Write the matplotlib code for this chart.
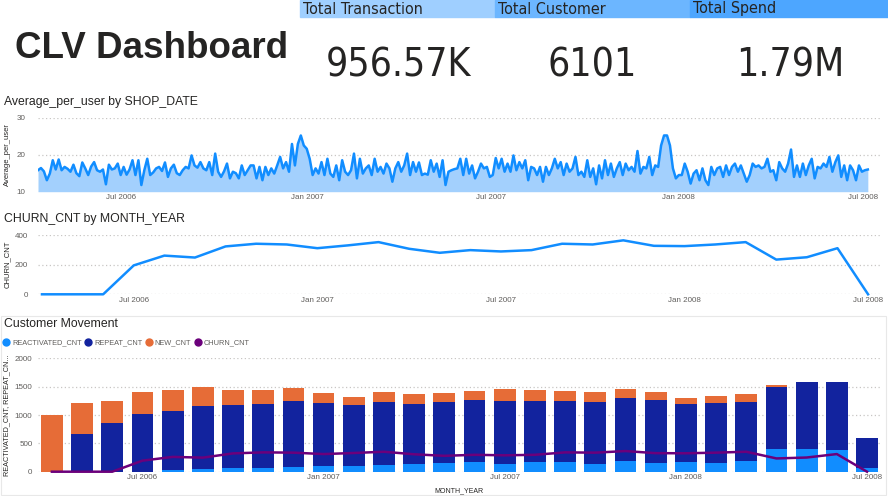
import matplotlib
matplotlib.use("Agg")
import matplotlib.pyplot as plt
import numpy as np
import pandas as pd
from matplotlib import font_manager
from matplotlib.lines import Line2D
from matplotlib.patches import Rectangle

W, H = 888, 496

# ---- data -------------------------------------------------------------
card_titles = ["Total Transaction", "Total Customer", "Total Spend"]
card_values = ["956.57K", "6101", "1.79M"]

# daily Average_per_user at ~3 day steps (10 Apr 2006 - 6 Jul 2008)
avg_per_user = [
    15.8, 16.4, 15.5, 13.1, 14.9, 18.5, 16.0, 18.7, 15.8, 16.7, 16.2, 15.4, 17.3, 15.0, 14.2,
    17.9, 16.3, 14.5, 16.8, 18.0, 15.8, 15.4, 16.0, 12.0, 17.3, 16.0, 16.3, 17.6, 14.5, 16.7,
    14.6, 16.0, 18.5, 14.5, 18.5, 11.8, 15.8, 18.9, 14.5, 15.2, 16.3, 16.7, 15.6, 17.9, 14.0,
    16.3, 17.3, 15.0, 14.5, 15.8, 16.7, 16.3, 19.8, 17.1, 16.5, 18.0, 16.3, 15.8, 18.0, 14.5,
    20.3, 15.4, 14.0, 15.5, 17.6, 13.6, 15.4, 15.0, 13.6, 17.1, 14.5, 15.8, 17.1,
    17.1, 13.6, 16.7, 13.1, 16.7, 14.5, 16.3, 14.9, 17.1, 19.4, 16.3, 18.0, 15.4, 22.9, 17.1,
    22.9, 25.2, 22.5, 21.6, 18.9, 14.5, 16.3, 14.9, 18.0, 14.5, 18.9, 14.9, 14.0, 17.1, 13.1,
    18.5, 15.4, 14.5, 15.8, 20.3, 13.6, 18.9, 14.9, 16.3, 17.1, 14.5, 18.9, 15.4, 16.7, 14.9,
    17.6, 16.3, 12.7, 16.3, 18.0, 15.4, 17.1, 20.3, 14.5, 18.0, 15.4, 17.9, 14.5, 14.9, 14.6,
    18.5, 15.4, 17.6, 14.0, 18.5, 11.8, 15.4, 15.8, 16.1,
    16.3, 18.9, 14.5, 18.9, 14.9, 17.1, 13.6, 15.4, 17.6, 16.3, 16.7, 14.0, 14.5, 19.1, 16.3,
    18.9, 15.4, 17.6, 15.4, 19.8, 15.8, 18.0, 16.3, 18.5, 13.1, 16.7, 16.3, 14.5, 16.7, 12.7,
    16.7, 14.5, 16.3, 18.9, 16.3, 18.0, 14.5, 17.6, 15.4, 16.3, 19.4, 14.5, 15.4, 14.0, 18.5,
    14.0, 16.3, 12.0, 17.1, 13.6, 18.5, 14.5, 17.6, 14.0, 16.3, 18.0, 14.5, 17.6, 15.8, 16.7,
    15.4, 21.0, 14.9, 16.7, 16.3, 19.4, 14.5, 17.1, 16.7, 22.5, 25.2,
    25.2, 22.5, 16.3, 13.6, 14.5, 14.5, 17.6, 15.4, 12.2, 14.9, 15.8, 13.1, 16.3, 13.1, 11.8,
    16.7, 14.5, 16.3, 16.7, 14.0, 17.1, 14.5, 16.7, 17.6, 15.4, 17.1, 14.9, 12.7, 14.5, 17.6,
    16.7, 17.1, 16.3, 16.7, 18.9, 15.4, 15.8, 13.1, 18.0, 16.3, 15.4, 17.6, 21.4, 14.0, 17.1,
    14.0, 17.6, 14.5, 17.1, 18.9, 13.6, 16.7, 16.3, 17.6, 16.7, 19.4, 15.4, 18.0, 19.8, 14.0,
    17.1, 13.1, 17.1, 15.8, 13.1, 17.1, 15.4, 15.8, 16.0,
]
shop_start, shop_end = "2006-04-10", "2008-07-06"

months = pd.date_range("2006-04-01", "2008-07-01", freq="MS")
churn_cnt = [0, 0, 0, 195, 261, 248, 323, 341, 336, 311, 330, 352, 307, 280,
             298, 289, 298, 341, 336, 364, 327, 325, 336, 352, 234, 250, 311, 0]
reactivated_cnt = [0, 0, 0, 0, 29, 47, 65, 65, 88, 106, 100, 118, 135, 159,
                   165, 141, 176, 170, 135, 182, 153, 165, 159, 194, 400, 400, 382, 65]
repeat_cnt = [0, 670, 864, 1017, 1047, 1117, 1117, 1135, 1164, 1111, 1070, 1117, 1053, 1076,
              1099, 1111, 1071, 1077, 1094, 1118, 1111, 1029, 1046, 1035, 1100, 1182, 1206, 523]
new_cnt = [1000, 541, 383, 388, 364, 330, 258, 235, 224, 177, 153, 176, 176, 153,
           165, 200, 193, 182, 176, 152, 136, 111, 130, 135, 23, 0, 0, 0]

# ---- style ------------------------------------------------------------
condensed = [f for f in font_manager.fontManager.ttflist
             if f.name == "DejaVu Sans" and f.stretch not in ("normal", 500)]
if condensed:
    card_font = dict(family=["DejaVu Sans"], fontstretch="condensed")
    title_size, value_size = 11.5, 28
else:
    card_font = dict(family=["Liberation Sans", "DejaVu Sans"])
    title_size, value_size = 11.3, 25.5
plt.rcParams["font.family"] = ["Liberation Sans", "DejaVu Sans"]

DARK = "#252423"
GREY = "#605E5C"
GRID = "#C8C6C4"
BLUE = "#118DFF"
FILL = "#A3D0FD"
NAVY = "#12239E"
ORANGE = "#E66C37"
PURPLE = "#6B007B"


def fx(px):
    return px / W


def fy(py):
    return 1 - py / H


def box(left, top, right, bottom):
    return [fx(left), fy(bottom), (right - left) / W, (bottom - top) / H]


def style_axes(ax, ypad):
    for s in ax.spines.values():
        s.set_visible(False)
    ax.tick_params(axis="both", length=0, labelsize=5.8, labelcolor=GREY)
    ax.tick_params(axis="y", pad=ypad)
    ax.tick_params(axis="x", pad=2)
    ax.grid(axis="y", color=GRID, linestyle=(0, (1, 2)), linewidth=0.9)
    ax.set_axisbelow(True)


fig = plt.figure(figsize=(W / 100, H / 100), dpi=100)

# ---- header -----------------------------------------------------------
fig.text(fx(15), fy(49), "CLV Dashboard", fontsize=26.5, fontweight="bold",
         color=DARK, va="center", ha="left")

card_left = [300, 495, 690]
card_right = [495, 690, 888]
card_colors = ["#9FCFFF", "#6CB6FF", "#4DA6FF"]
card_centers = [398, 592, 790]
for title, value, l, r, c, cx in zip(card_titles, card_values, card_left, card_right,
                                     card_colors, card_centers):
    fig.patches.append(Rectangle((fx(l), fy(17)), (r - l) / W, 17 / H,
                                 transform=fig.transFigure, color=c, zorder=0))
    fig.text(fx(l + 3), fy(9), title, fontsize=title_size, color=DARK,
             va="center", ha="left", **card_font)
    fig.text(fx(cx), fy(65.5), value, fontsize=value_size, color=DARK,
             va="center", ha="center", **card_font)

# ---- Average_per_user by SHOP_DATE -----------------------------------
ax1 = fig.add_axes(box(38, 117.7, 880, 191.7))
style_axes(ax1, 9)
dates = pd.date_range(shop_start, shop_end, periods=len(avg_per_user))
ax1.fill_between(dates, 10, avg_per_user, color=FILL, linewidth=0)
ax1.plot(dates, avg_per_user, color=BLUE, linewidth=1.8)
ax1.set_ylim(10, 30)
ax1.set_yticks([10, 20, 30])
ax1.set_xlim(pd.Timestamp(shop_start), pd.Timestamp(shop_end) + pd.Timedelta(days=12))
xt = pd.date_range("2006-07-01", "2008-07-01", freq="6MS")
ax1.set_xticks(xt)
ax1.set_xticklabels([d.strftime("%b %Y") for d in xt])
fig.text(fx(4), fy(102), "Average_per_user by SHOP_DATE", fontsize=8.8, color=DARK,
         va="center", ha="left")
fig.text(fx(7), fy(154.7), "Average_per_user", fontsize=5.5, color=DARK, rotation=90,
         va="center", ha="center")

# ---- CHURN_CNT by MONTH_YEAR -----------------------------------------
idx = np.arange(len(months))
tick_idx = [i for i, m in enumerate(months) if m.month in (1, 7)]
tick_lab = [months[i].strftime("%b %Y") for i in tick_idx]

ax2 = fig.add_axes(box(38, 235, 880, 294.3))
style_axes(ax2, 7)
ax2.plot(idx, churn_cnt, color=BLUE, linewidth=1.8, clip_on=False)
ax2.set_ylim(0, 400)
ax2.set_yticks([0, 200, 400])
ax2.set_xlim(-0.13, 27.39)
ax2.set_xticks(tick_idx)
ax2.set_xticklabels(tick_lab)
fig.text(fx(4), fy(219), "CHURN_CNT by MONTH_YEAR", fontsize=8.8, color=DARK,
         va="center", ha="left")
fig.text(fx(7), fy(264.6), "CHURN_CNT", fontsize=5.5, color=DARK, rotation=90,
         va="center", ha="center")

# ---- Customer Movement -----------------------------------------------
fig.patches.append(Rectangle((fx(1), fy(495)), 885 / W, 179 / H, transform=fig.transFigure,
                             fill=False, edgecolor="#E8E8E8", linewidth=0.8))
ax3 = fig.add_axes(box(38, 358.3, 880, 471.7))
style_axes(ax3, 4)
react = np.array(reactivated_cnt)
rep = np.array(repeat_cnt)
new = np.array(new_cnt)
ax3.bar(idx, react, width=0.72, color=BLUE)
ax3.bar(idx, rep, width=0.72, bottom=react, color=NAVY)
ax3.bar(idx, new, width=0.72, bottom=react + rep, color=ORANGE)
ax3.plot(idx, churn_cnt, color=PURPLE, linewidth=1.8, clip_on=False)
ax3.set_ylim(0, 2000)
ax3.set_yticks([0, 500, 1000, 1500, 2000])
ax3.set_xlim(-0.46, 27.43)
ax3.set_xticks(tick_idx)
ax3.set_xticklabels(tick_lab)
fig.text(fx(4), fy(324), "Customer Movement", fontsize=8.8, color=DARK,
         va="center", ha="left")
fig.text(fx(7), fy(415), "REACTIVATED_CNT, REPEAT_CN...", fontsize=5.2, color=DARK,
         rotation=90, va="center", ha="center")
fig.text(fx(459), fy(491), "MONTH_YEAR", fontsize=5, color=DARK, va="center", ha="center")

handles = [Line2D([], [], marker="o", linestyle="none", markersize=5, color=c)
           for c in (BLUE, NAVY, ORANGE, PURPLE)]
fig.legend(handles, ["REACTIVATED_CNT", "REPEAT_CNT", "NEW_CNT", "CHURN_CNT"],
           loc="center left", bbox_to_anchor=(fx(2), fy(343)), ncol=4, frameon=False,
           fontsize=5.3, labelcolor=GREY, handlelength=1.0, handletextpad=0.35,
           columnspacing=0.35, borderaxespad=0, borderpad=0)

fig.savefig("out.png", dpi=100)
